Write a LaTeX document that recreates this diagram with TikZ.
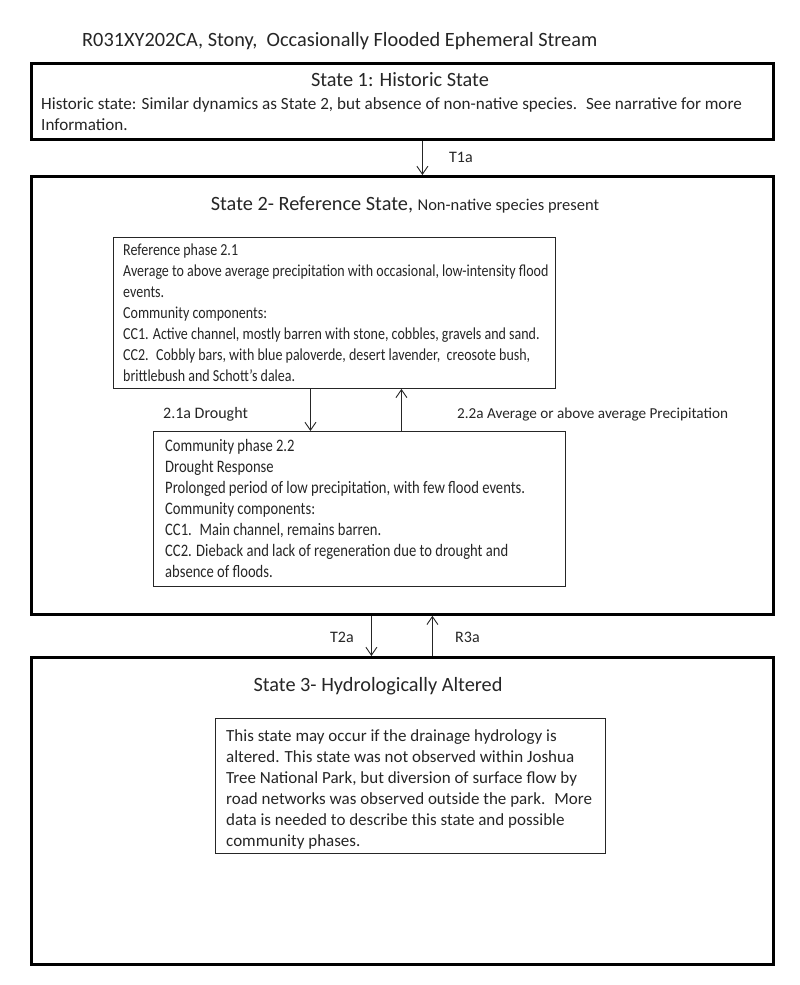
\documentclass[tikz,border=0pt]{standalone}
\usepackage{fontspec}
\usepackage{graphicx}
\setmainfont{Carlito}
\usetikzlibrary{arrows.meta}
\newcommand\txtblock[2]{\scalebox{1}[#1]{\begin{tabular}[b]{@{}l@{}}#2\end{tabular}}}
\begin{document}
\begin{tikzpicture}[x=1pt,y=-1pt,
  statebox/.style={draw=black, line width=2.8pt, inner sep=0, anchor=north west},
  phasebox/.style={draw=black!85, line width=0.9pt, inner sep=0, anchor=north west},
  body/.style={anchor=base west, inner sep=0, text=black!85},
  ttl/.style={anchor=base, inner sep=0, font=\fontsize{20.3}{24}\selectfont, text=black!85},
  lbl/.style={anchor=base west, inner sep=0, font=\fontsize{16}{19}\selectfont, text=black!85},
  arr/.style={draw=black!85, line width=0.9pt, -{Straight Barb[length=8pt,width=11pt]}}
]
\useasboundingbox[fill=white] (0,0) rectangle (800,985);
\node[statebox, minimum width=742, minimum height=76] (s1) at (30,62) {};
\node[statebox, minimum width=742, minimum height=438] (s2) at (30,175) {};
\node[statebox, minimum width=742, minimum height=307] (s3) at (30,656) {};
\node[phasebox, minimum width=442, minimum height=151] (p21) at (113,237) {};
\node[phasebox, minimum width=412, minimum height=155] (p22) at (153,431) {};
\node[phasebox, minimum width=390, minimum height=135] (p3) at (215,718) {};

\node[ttl, anchor=base west] (title) at (82,46.5) {R031XY202CA, Stony, \ Occasionally Flooded Ephemeral Stream};
\node[ttl] (s1t) at (400,86.5) {State 1: Historic State};
\node[body, font=\fontsize{17.1}{21}\selectfont] (s1b) at (41,130) {\txtblock{1}{Historic state: Similar dynamics as State 2, but absence of non-native species. \ See narrative for more\\Information.}};
\node[ttl] (s2t) at (405,210.5) {State 2- Reference State, {\fontsize{16.5}{19}\selectfont Non-native species present}};
\node[body, font=\fontsize{14}{17.5}\selectfont] (p21t) at (123,381) {\txtblock{1.2}{Reference phase 2.1\\Average to above average precipitation with occasional, low-intensity flood\\events.\\Community components:\\CC1. Active channel, mostly barren with stone, cobbles, gravels and sand.\\CC2. \ Cobbly bars, with blue paloverde, desert lavender, \ creosote bush,\\brittlebush and Schott’s dalea.}};
\node[body, font=\fontsize{14.6}{17.5}\selectfont] (p22t) at (165,577) {\txtblock{1.2}{Community phase 2.2\\Drought Response\\Prolonged period of low precipitation, with few flood events.\\Community components:\\CC1. \ Main channel, remains barren.\\CC2. Dieback and lack of regeneration due to drought and\\absence of floods.}};
\node[ttl] (s3t) at (378,691.5) {State 3- Hydrologically Altered};
\node[body, font=\fontsize{17}{21}\selectfont] (p3t) at (226,846) {\txtblock{1}{This state may occur if the drainage hydrology is\\altered. This state was not observed within Joshua\\Tree National Park, but diversion of surface flow by\\road networks was observed outside the park. \ More\\data is needed to describe this state and possible\\community phases.}};

\node[lbl] (t1a) at (449,162.5) {T1a};
\node[lbl] (l21a) at (163,418.5) {2.1a Drought};
\node[lbl, font=\fontsize{15.2}{18}\selectfont] (l22a) at (457,418.5) {2.2a Average or above average Precipitation};
\node[lbl] (t2a) at (330,642.5) {T2a};
\node[lbl] (r3a) at (455,642.5) {R3a};

\draw[arr] ([xshift=20pt]s1.south) -- ([xshift=20pt]s2.north);
\draw[arr] ([xshift=-24pt]p21.south) -- ([xshift=-49pt]p22.north);
\draw[arr] ([xshift=42pt]p22.north) -- ([xshift=67pt]p21.south);
\draw[arr] ([xshift=-31pt]s2.south) -- ([xshift=-31pt]s3.north);
\draw[arr] ([xshift=30pt]s3.north) -- ([xshift=30pt]s2.south);
\end{tikzpicture}
\end{document}
